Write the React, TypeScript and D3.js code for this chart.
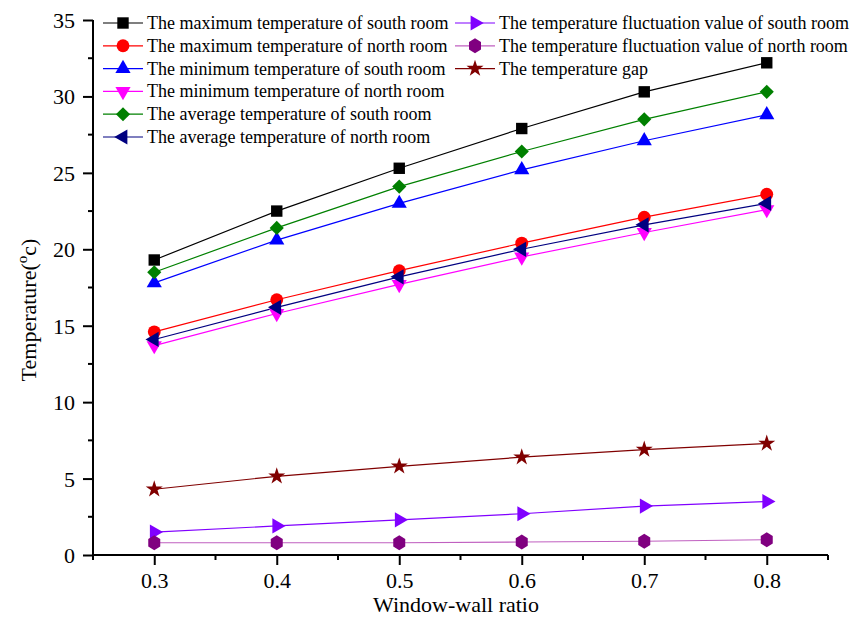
import * as d3 from 'd3';
import { useEffect, useRef } from 'react';

const ratios = [0.3, 0.4, 0.5, 0.6, 0.7, 0.8];

const maxSouth = [19.3, 22.5, 25.3, 27.9, 30.3, 32.2];
const maxNorth = [14.6, 16.7, 18.6, 20.4, 22.1, 23.6];
const minSouth = [17.8, 20.6, 23.0, 25.2, 27.1, 28.8];
const minNorth = [13.7, 15.8, 17.7, 19.5, 21.1, 22.6];
const avgSouth = [18.5, 21.4, 24.1, 26.4, 28.5, 30.3];
const avgNorth = [14.1, 16.2, 18.2, 20.0, 21.6, 23.0];
const fluctSouth = [1.5, 1.9, 2.3, 2.7, 3.2, 3.5];
const fluctNorth = [0.8, 0.8, 0.8, 0.85, 0.9, 1.0];
const tempGap = [4.3, 5.15, 5.8, 6.4, 6.9, 7.3];

const seriesNames = [
    'The maximum temperature of south room',
    'The maximum temperature of north room',
    'The minimum temperature of south room',
    'The minimum temperature of north room',
    'The average temperature of south room',
    'The average temperature of north room',
    'The temperature fluctuation value of south room',
    'The temperature fluctuation value of north room',
    'The temperature gap'
];

const yTicks = [0, 5, 10, 15, 20, 25, 30, 35];

export default function App() {
    const svgRef = useRef<SVGSVGElement>(null);

    useEffect(() => {
        drawChart(svgRef.current);
    }, [svgRef]);

    return (
        <div style={{ position: 'absolute', left: 0, top: 0 }}>
            <svg ref={svgRef}></svg>
        </div>
    );
}

// pointy-top hexagon like the Origin marker
const hexPath = 'M0,-7.5L6,-3.8L6,3.8L0,7.5L-6,3.8L-6,-3.8Z';

function drawChart(el: SVGSVGElement | null) {
    if (!el) return;
    const w = 854;
    const h = 619;
    const font = '"Liberation Serif", "Times New Roman", serif';

    const svg = d3.select(el).attr('width', w).attr('height', h).style('display', 'block');
    svg.selectAll('*').remove();
    svg.append('rect').attr('width', w).attr('height', h).attr('fill', '#fff');

    const x = d3.scaleLinear().domain([0.25, 0.85]).range([93, 828]);
    const y = d3.scaleLinear().domain([0, 35]).range([555, 20]);

    const symbol = (type: d3.SymbolType, size: number) => d3.symbol().type(type).size(size)();

    const styles = [
        { color: '#000000', d: symbol(d3.symbolSquare, 130), rot: 0 },
        { color: '#ff0000', d: symbol(d3.symbolCircle, 130), rot: 0 },
        { color: '#0000ff', d: symbol(d3.symbolTriangle, 100), rot: 0 },
        { color: '#ff00ff', d: symbol(d3.symbolTriangle, 100), rot: 180 },
        { color: '#008000', d: symbol(d3.symbolSquare, 100), rot: 45 },
        { color: '#000080', d: symbol(d3.symbolTriangle, 100), rot: -90 },
        { color: '#8000ff', d: symbol(d3.symbolTriangle, 100), rot: 90 },
        { color: '#800080', d: hexPath, rot: 0 },
        { color: '#800000', d: symbol(d3.symbolStar, 90), rot: 0 }
    ];
    const data = [maxSouth, maxNorth, minSouth, minNorth, avgSouth, avgNorth, fluctSouth, fluctNorth, tempGap];
    const lineColors = ['#000000', '#ff0000', '#0000ff', '#ff00ff', '#008000', '#000080', '#8000ff', '#c060c0', '#800000'];

    // axes
    const xAxis = d3.axisBottom(x).tickValues(ratios).tickSize(10).tickFormat(d3.format('.1f'));
    const yAxis = d3.axisLeft(y).tickValues(yTicks).tickSize(10).tickFormat(d3.format('d'));

    const gx = svg.append('g').attr('transform', 'translate(0,' + y(0) + ')').call(xAxis);
    const gy = svg.append('g').attr('transform', 'translate(' + x(0.25) + ',0)').call(yAxis);

    // minor ticks
    d3.range(0.25, 0.86, 0.1).forEach(v => {
        gx.append('line').attr('x1', x(v)).attr('x2', x(v)).attr('y1', 0).attr('y2', 5).attr('stroke', '#000').attr('stroke-width', 2);
    });
    d3.range(2.5, 35, 5).forEach(v => {
        gy.append('line').attr('y1', y(v)).attr('y2', y(v)).attr('x1', 0).attr('x2', -5).attr('stroke', '#000').attr('stroke-width', 2);
    });

    [gx, gy].forEach(g => {
        g.select('.domain').remove();
        g.selectAll('.tick line').attr('stroke-width', 2);
        g.selectAll('.tick text').attr('font-family', font).attr('font-size', 22).attr('fill', '#000');
    });
    gx.selectAll('.tick text').attr('y', 33).attr('dy', null);
    gy.selectAll('.tick text').attr('x', -18).attr('dy', '0.34em');
    svg.append('line').attr('x1', x(0.25)).attr('x2', x(0.85)).attr('y1', y(0)).attr('y2', y(0)).attr('stroke', '#000').attr('stroke-width', 2);
    svg.append('line').attr('x1', x(0.25)).attr('x2', x(0.25)).attr('y1', y(0)).attr('y2', y(35)).attr('stroke', '#000').attr('stroke-width', 2);

    // axis titles
    svg.append('text')
        .attr('x', 456).attr('y', 612)
        .attr('text-anchor', 'middle')
        .attr('font-family', font).attr('font-size', 22)
        .text('Window-wall ratio');

    const yt = svg.append('text')
        .attr('transform', 'translate(36,' + 310 + ') rotate(-90)')
        .attr('text-anchor', 'middle')
        .attr('font-family', font).attr('font-size', 22);
    yt.append('tspan').text('Temperature(');
    yt.append('tspan').attr('font-size', 15).attr('dy', -9).text('o');
    yt.append('tspan').attr('dy', 9).text('c)');

    // series
    const line = d3.line<number>()
        .x((d, i) => x(ratios[i]))
        .y(d => y(d));

    data.forEach((vals, s) => {
        svg.append('path')
            .datum(vals)
            .attr('d', line)
            .attr('fill', 'none')
            .attr('stroke', lineColors[s])
            .attr('stroke-width', 1.2);
    });
    data.forEach((vals, s) => {
        svg.append('g').selectAll('path')
            .data(vals)
            .enter()
            .append('path')
            .attr('d', styles[s].d)
            .attr('transform', (d, i) => 'translate(' + x(ratios[i]) + ',' + y(d) + ') rotate(' + styles[s].rot + ')')
            .attr('fill', styles[s].color);
    });

    // legend
    const legend = svg.append('g').attr('font-family', font).attr('font-size', 18);
    seriesNames.forEach((name, s) => {
        const col = s < 6 ? 0 : 1;
        const row = s < 6 ? s : s - 6;
        const lx = col === 0 ? 103 : 455;
        const ly = 23 + row * 22.8;
        const g = legend.append('g').attr('transform', 'translate(' + lx + ',' + ly + ')');
        g.append('line').attr('x1', 0).attr('x2', 40).attr('y1', 0).attr('y2', 0)
            .attr('stroke', lineColors[s]).attr('stroke-width', 1.2);
        g.append('path').attr('d', styles[s].d)
            .attr('transform', 'translate(20,0) rotate(' + styles[s].rot + ')')
            .attr('fill', styles[s].color);
        g.append('text').attr('x', 44).attr('y', 6).text(name);
    });
}
